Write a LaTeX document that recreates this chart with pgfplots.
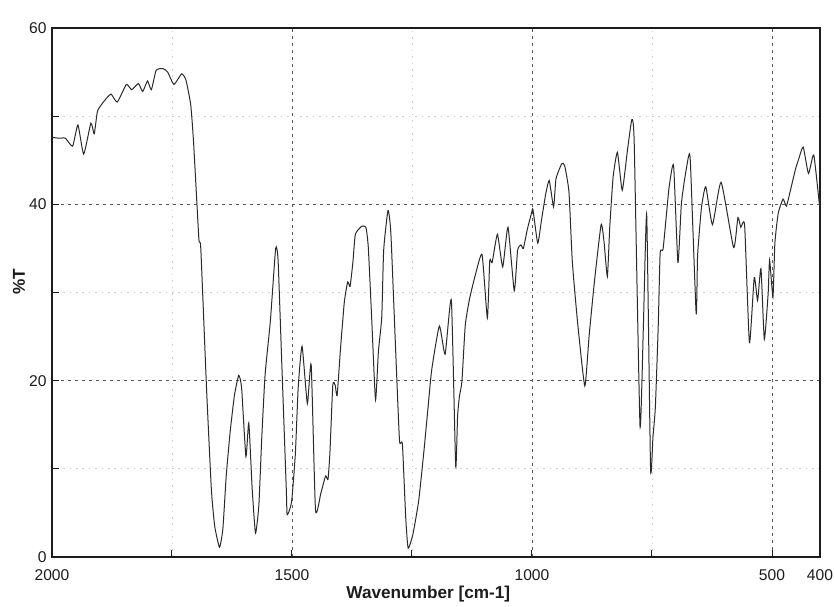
\documentclass[border=0pt]{standalone}
\usepackage{fontspec}
\setmainfont{Liberation Sans}
\usepackage{pgfplots}
\pgfplotsset{compat=1.18}
\definecolor{specInk}{HTML}{2A2A2A}
\definecolor{frameInk}{HTML}{1C1C1C}
\definecolor{gridInk}{HTML}{5A5A5A}
\definecolor{gridFaint}{HTML}{CFCFCF}

\begin{document}
\begin{tikzpicture}
  \begin{axis}[
    scale only axis,
    width=384pt,
    height=264.5pt,
    x dir=reverse,
    xmin=400, xmax=2000,
    ymin=0, ymax=60,
    xtick={2000,1500,1000,500,400},
    xticklabels={2000,1500,1000,500,400},
    minor xtick={1750,1250,750},
    ytick={0,20,40,60},
    minor ytick={10,30,50},
    tick pos=left,
    tick align=inside,
    major tick length=3.5pt,
    minor tick length=3.5pt,
    tick style={draw=frameInk, line width=0.5pt},
    axis line style={draw=frameInk, line width=0.6pt},
    grid=both,
    major grid style={draw=gridInk, line width=0.45pt, dash pattern=on 1.3pt off 2.2pt},
    minor grid style={draw=gridFaint, line width=0.4pt, dash pattern=on 0.8pt off 2.4pt},
    /pgf/number format/assume math mode=true,
    ticklabel style={font=\fontsize{7.8}{9}\selectfont, text=frameInk},
    xticklabel style={anchor=north, inner sep=0pt, yshift=-6pt},
    yticklabel style={anchor=east, inner sep=0pt, xshift=-2.5pt},
    xlabel={Wavenumber [cm-1]},
    ylabel={\%T},
    label style={font=\fontsize{8.6}{10}\selectfont\bfseries, text=frameInk},
    xlabel style={at={(axis description cs:0.49,0)}, anchor=north, inner sep=0pt, yshift=-14.5pt},
    ylabel style={at={(axis description cs:0,0.52)}, anchor=center, inner sep=0pt, yshift=16.5pt},
  ]
    \addplot[specInk, line width=0.5pt, smooth, tension=0.3] coordinates {
      (2000,47.6) (1985,47.5) (1972,47.5) (1957,46.6) (1946,49.0) (1934,45.7)
      (1919,49.2) (1912,48.0) (1905,50.6) (1890,51.8) (1877,52.5) (1864,51.6)
      (1845,53.6) (1834,53.0) (1820,53.7) (1811,52.8) (1801,54.0) (1793,53.0)
      (1783,55.2) (1769,55.4) (1759,55.0) (1746,53.6) (1730,54.8) (1721,54.1)
      (1711,51.3) (1705,47.0) (1694,36.1) (1690,35.0) (1678,19.1) (1668,7.7)
      (1661,3.5) (1651,1.1) (1644,3.2) (1637,9.2) (1629,14.1) (1620,18.3)
      (1611,20.6) (1605,19.2) (1596,11.4) (1590,15.2) (1583,7.8) (1576,2.7)
      (1569,5.9) (1563,13.5) (1556,20.7) (1545,26.8) (1534,35.0) (1529,33.7)
      (1522,23.1) (1512,7.9) (1510,4.8) (1501,6.2) (1493,11.7) (1487,19.3)
      (1479,23.9) (1468,17.4) (1460,21.8) (1451,5.3) (1440,7.2) (1430,9.2)
      (1425,8.8) (1421,11.8) (1415,19.5) (1410,19.5) (1406,18.3) (1399,23.6)
      (1391,28.9) (1384,31.2) (1379,30.7) (1373,33.5) (1368,36.6) (1355,37.5)
      (1346,37.4) (1341,35.1) (1334,27.1) (1326,17.8) (1320,23.3) (1313,27.2)
      (1309,34.8) (1300,39.3) (1294,36.7) (1284,23.4) (1276,13.2) (1270,12.8)
      (1263,4.4) (1258,1.0) (1248,2.6) (1236,6.4) (1225,12.1) (1217,16.7)
      (1209,21.2) (1193,26.2) (1181,23.0) (1168,29.1) (1159,10.3) (1155,16.0)
      (1151,18.3) (1146,19.9) (1139,26.3) (1130,29.3) (1118,32.0) (1104,34.3)
      (1093,27.1) (1088,33.6) (1083,33.4) (1072,36.6) (1061,32.9) (1050,37.4)
      (1037,30.2) (1030,34.8) (1023,35.4) (1018,35.0) (1010,37.1) (1001,39.0)
      (998,39.4) (988,35.6) (980,38.3) (971,41.3) (964,42.7) (955,39.7)
      (950,42.9) (938,44.6) (932,44.4) (923,41.4) (916,33.5) (905,26.6)
      (890,19.4) (881,25.1) (870,31.2) (856,37.7) (850,35.8) (843,31.8)
      (838,37.4) (831,43.1) (822,45.9) (812,41.6) (801,46.2) (792,49.6)
      (787,46.9) (775,14.9) (768,26.1) (761,38.8) (753,10.0) (748,13.6)
      (743,17.0) (737,26.2) (733,34.5) (727,34.9) (719,39.4) (714,42.1)
      (705,44.4) (696,33.4) (689,39.9) (683,42.5) (674,45.4) (670,44.8)
      (658,27.6) (655,34.2) (647,39.6) (638,42.0) (624,37.7) (606,42.5)
      (580,35.1) (571,38.5) (565,37.4) (557,37.6) (547,24.3) (537,31.7)
      (530,29.1) (523,32.7) (516,24.7) (508,29.9) (505,33.7) (498,29.5)
      (494,35.6) (487,39.0) (477,40.6) (470,39.8) (462,41.5) (451,44.0)
      (444,45.2) (435,46.5) (424,43.5) (413,45.6) (401,39.9) (400,41.0)
    };
  \end{axis}
  \pgfresetboundingbox
  \path[use as bounding box] (-26pt,-24.5pt) rectangle (391pt,278.5pt);
\end{tikzpicture}
\end{document}
